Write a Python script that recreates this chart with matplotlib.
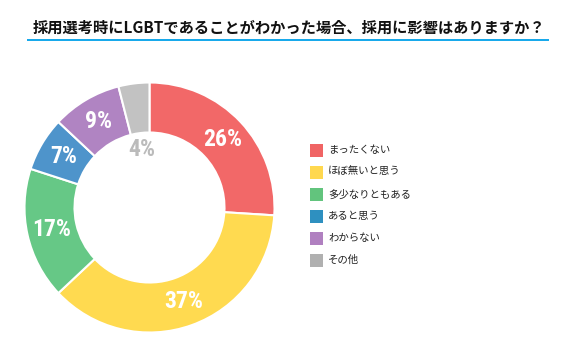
import numpy as np
import matplotlib
matplotlib.use("Agg")
import matplotlib.pyplot as plt
from matplotlib.patches import Rectangle
from matplotlib import font_manager as fm

plt.rcParams['font.family'] = ['Noto Sans CJK JP', 'DejaVu Sans']

title = "採用選考時にLGBTであることがわかった場合、採用に影響はありますか？"
categories = ["まったくない", "ほぼ無いと思う", "多少なりともある", "あると思う", "わからない", "その他"]
values = [26, 37, 17, 7, 9, 4]
labels = ["26%", "37%", "17%", "7%", "9%", "4%"]
colors = ["#F26868", "#FFDA50", "#66C886", "#4E94CB", "#B084C2", "#C2C2C2"]
legend_colors = ["#F06464", "#FFD84F", "#62C47D", "#2E90C0", "#B080C0", "#B0B0B0"]

W, H = 579, 350
fig = plt.figure(figsize=(W / 100, H / 100), dpi=100)
ax = fig.add_axes([0, 0, 1, 1])
ax.set_xlim(0, W)
ax.set_ylim(H, 0)
ax.axis('off')

# title
ax.text(289, 28, title, ha='center', va='center', fontsize=11, fontweight='bold', color='#111111')
ax.plot([27, 549], [40, 40], color='#00A0E9', lw=1.3, solid_capstyle='butt')

# donut (in its own axes with y up)
pax = fig.add_axes([0, 0, 1, 1])
pax.set_xlim(0, W)
pax.set_ylim(0, H)
pax.set_aspect('equal')
pax.axis('off')
cx, cy, R = 149.5, H - 207.5, 125
wedges, _ = pax.pie(values, colors=colors, startangle=90, counterclock=False,
                    center=(cx, cy), radius=R,
                    wedgeprops=dict(width=0.4 * R, edgecolor='white', linewidth=1.5))
pax.set_xlim(0, W)
pax.set_ylim(0, H)

names = {f.name for f in fm.fontManager.ttflist}
fam = 'DejaVu Sans'
for cand in ['Roboto Condensed', 'Liberation Sans Narrow', 'Roboto']:
    if cand in names:
        fam = cand
        break
for w, lab, i in zip(wedges, labels, range(len(labels))):
    ang = np.deg2rad((w.theta1 + w.theta2) / 2)
    dist = 0.80 * R if i != 5 else 0.47 * R
    col = 'white' if i != 5 else '#BBBBBB'
    pax.text(cx + dist * np.cos(ang), cy + dist * np.sin(ang), lab, ha='center', va='center',
             fontsize=17, fontweight='bold', color=col, family=fam, fontstretch='condensed')

# legend
for i, (cat, c) in enumerate(zip(categories, legend_colors)):
    y = 150.5 + i * 21.9
    ax.add_patch(Rectangle((310, y - 6.5), 13, 13, facecolor=c, edgecolor='none'))
    ax.text(328, y, cat, ha='left', va='center', fontsize=7.5, color='#222222')

fig.savefig("out.png", dpi=100)
